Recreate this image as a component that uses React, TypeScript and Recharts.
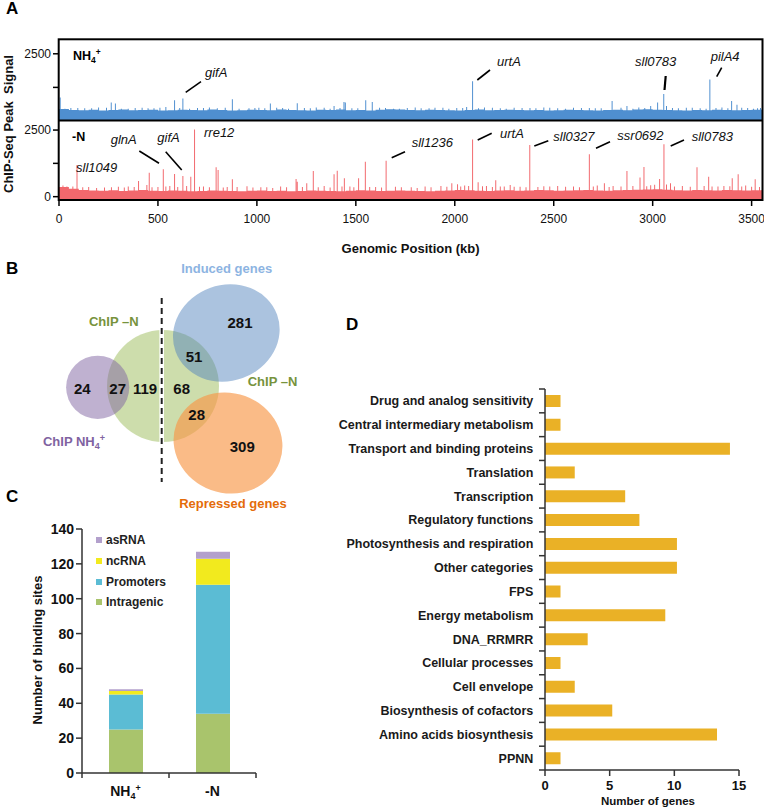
import React from "react";
import { AreaChart, Area, XAxis, YAxis, BarChart, Bar } from "recharts";

const FONT = '"Liberation Sans", Arial, Helvetica, sans-serif';

// ---- A: ChIP-seq peak signal along the genome (kb) ----
const GENOME_END = 3555;
const BIN = 50; // baseline read every 50 kb
const SPIKE = 2.5; // half width of a drawn peak, kb
const genomeTicks = [0, 500, 1000, 1500, 2000, 2500, 3000, 3500];
const signalTicks = [0, 1250, 2500];

const nh4Baseline = [
  450, 410, 400, 420, 390, 410, 430, 400, 410, 420, 390, 400,
  420, 410, 400, 430, 410, 390, 400, 420, 410, 400, 430, 410,
  400, 390, 420, 410, 430, 400, 410, 390, 420, 440, 430, 410,
  400, 420, 410, 400, 390, 410, 430, 400, 410, 420, 410, 400,
  410, 390, 400, 420, 410, 400, 390, 410, 420, 400, 430, 440,
  420, 410, 400, 390, 410, 400, 420, 410, 400, 410, 420, 430,
];
// [position kb, signal]
const nh4Peaks: [number, number][] = [
  [6, 875], [60, 480], [130, 470], [200, 500], [264, 690], [285, 650], [350, 460],
  [420, 490], [480, 470], [540, 520], [584, 775], [626, 840], [700, 480], [760, 500],
  [876, 810], [960, 470], [1010, 490], [1068, 650], [1130, 480], [1204, 660], [1300, 500],
  [1390, 560], [1440, 710], [1447, 690], [1480, 470], [1550, 775], [1583, 710], [1650, 480],
  [1720, 460], [1800, 500], [1870, 470], [1940, 490], [2010, 480], [2060, 520], [2090, 1475],
  [2150, 500], [2230, 470], [2300, 490], [2380, 480], [2450, 500], [2520, 470], [2600, 490],
  [2680, 480], [2740, 470], [2795, 740], [2870, 560], [2930, 500], [2990, 560], [3025, 690],
  [3056, 1000], [3100, 480], [3170, 490], [3240, 470], [3289, 1540], [3350, 500], [3399, 740],
  [3426, 600], [3480, 480], [3530, 470],
];
const nh4Bumps: [number, number][] = [
  [30, 460], [95, 480], [165, 470], [240, 490], [315, 460], [385, 480], [450, 470], [510, 490],
  [610, 480], [660, 460], [730, 480], [800, 470], [840, 490], [910, 460], [990, 480], [1040, 470],
  [1100, 490], [1160, 460], [1240, 480], [1270, 470], [1340, 490], [1370, 460], [1420, 480],
  [1510, 470], [1620, 490], [1690, 460], [1760, 480], [1830, 470], [1900, 490], [1970, 460],
  [2040, 480], [2120, 470], [2190, 490], [2260, 460], [2340, 480], [2410, 470], [2480, 490],
  [2560, 460], [2640, 480], [2710, 470], [2840, 490], [2900, 460], [2960, 480], [3070, 560],
  [3130, 470], [3200, 490], [3270, 460], [3320, 480], [3380, 470], [3450, 490], [3510, 460],
  [3545, 480],
];

const minusNBaseline = [
  360, 300, 250, 230, 220, 240, 210, 230, 250, 220, 210, 230,
  220, 200, 210, 230, 220, 210, 200, 220, 230, 210, 220, 200,
  210, 230, 220, 210, 200, 220, 240, 230, 210, 220, 230, 220,
  210, 200, 220, 230, 250, 240, 220, 210, 230, 240, 220, 230,
  250, 240, 220, 230, 240, 250, 230, 220, 240, 250, 260, 270,
  280, 260, 240, 230, 250, 240, 230, 250, 240, 230, 240, 250,
];
const minusNPeaks: [number, number][] = [
  [40, 380], [91, 1190], [150, 360], [230, 340], [300, 370], [350, 380], [402, 590],
  [444, 440], [456, 900], [500, 360], [527, 1025], [560, 400], [584, 850], [626, 775],
  [666, 750], [685, 2525], [730, 380], [794, 1100], [804, 1000], [850, 360], [876, 650],
  [950, 390], [1050, 350], [1120, 380], [1198, 665], [1204, 560], [1252, 500], [1285, 960],
  [1340, 400], [1390, 840], [1406, 975], [1442, 690], [1470, 380], [1514, 690], [1548, 1310],
  [1600, 360], [1653, 1350], [1700, 370], [1780, 350], [1850, 380], [1930, 400], [1985, 500],
  [2014, 470], [2050, 420], [2090, 2150], [2118, 540], [2160, 400], [2207, 615], [2250, 380],
  [2280, 440], [2330, 370], [2379, 1940], [2450, 390], [2520, 400], [2600, 380], [2680, 1590],
  [2720, 420], [2756, 500], [2800, 400], [2870, 960], [2936, 715], [2956, 1115], [2990, 430],
  [3010, 450], [3035, 665], [3057, 1965], [3090, 500], [3150, 400], [3224, 1100], [3283, 750],
  [3300, 380], [3360, 400], [3402, 690], [3432, 840], [3470, 420], [3518, 650],
];
const minusNBumps: [number, number][] = [
  [20, 420], [70, 380], [120, 350], [190, 330], [265, 350], [330, 340], [380, 360], [470, 350],
  [540, 380], [600, 360], [645, 400], [710, 370], [760, 350], [830, 340], [900, 360], [980, 340],
  [1020, 350], [1080, 330], [1150, 350], [1230, 360], [1310, 350], [1370, 340], [1430, 380],
  [1490, 350], [1570, 360], [1630, 340], [1730, 350], [1810, 330], [1880, 350], [1960, 370],
  [2030, 380], [2070, 400], [2140, 390], [2190, 360], [2230, 380], [2300, 370], [2360, 350],
  [2420, 360], [2480, 380], [2560, 370], [2630, 350], [2700, 380], [2780, 360], [2840, 380],
  [2900, 400], [2970, 390], [3070, 460], [3110, 380], [3190, 370], [3260, 400], [3330, 380],
  [3390, 390], [3450, 380], [3500, 370], [3540, 360],
];

// ---- B: Venn counts ----
const vennCounts = [24, 27, 119, 68, 51, 28, 281, 309];

// ---- C: binding sites ----
const siteGroups = ["NH4+", "-N"];
const intragenicSites = [25, 34];
const promoterSites = [20, 74];
const ncRNASites = [2, 15];
const asRNASites = [1, 4];
const siteTicks = [0, 20, 40, 60, 80, 100, 120, 140];

// ---- D: genes per functional category ----
const geneCategories = [
  "Drug and analog sensitivity",
  "Central intermediary metabolism",
  "Transport and binding proteins",
  "Translation",
  "Transcription",
  "Regulatory functions",
  "Photosynthesis and respiration",
  "Other categories",
  "FPS",
  "Energy metabolism",
  "DNA_RRMRR",
  "Cellular processes",
  "Cell envelope",
  "Biosynthesis of cofactors",
  "Amino acids biosynthesis",
  "PPNN",
];
const geneCounts = [1.2, 1.2, 14.3, 2.3, 6.2, 7.3, 10.2, 10.2, 1.2, 9.3, 3.3, 1.2, 2.3, 5.2, 13.3, 1.2];
const geneTicks = [0, 5, 10, 15];

const nh4Genes = ["gifA", "urtA", "sll0783", "pilA4"];
const minusNGenes = ["sll1049", "glnA", "gifA", "rre12", "sll1236", "urtA", "sll0327", "ssr0692", "sll0783"];

// step profile: baseline per bin, peaks override it
function buildSignal(base: number[], peaks: [number, number][]) {
  const baseAt = (x: number) =>
    base[Math.max(0, Math.min(base.length - 1, Math.floor(x / BIN)))];
  const breaks = new Set<number>();
  base.forEach((_, i) => breaks.add(i * BIN));
  peaks.forEach(([p]) => {
    breaks.add(p - SPIKE);
    breaks.add(p + SPIKE);
  });
  breaks.add(GENOME_END);
  return [...breaks]
    .sort((a, b) => a - b)
    .map((pos) => {
      const hit = peaks.find(([p]) => pos >= p - SPIKE && pos < p + SPIKE);
      return { pos, v: hit ? hit[1] : baseAt(pos) };
    });
}

const nh4Signal = buildSignal(nh4Baseline, [...nh4Peaks, ...nh4Bumps]);
const minusNSignal = buildSignal(minusNBaseline, [...minusNPeaks, ...minusNBumps]);

const siteData = siteGroups.map((g, i) => ({
  group: g,
  intragenic: intragenicSites[i],
  promoters: promoterSites[i],
  ncRNA: ncRNASites[i],
  asRNA: asRNASites[i],
}));

const siteSeries = [
  { key: "intragenic", name: "Intragenic", color: "#a9c46c" },
  { key: "promoters", name: "Promoters", color: "#5bbcd4" },
  { key: "ncRNA", name: "ncRNA", color: "#f2ea1e" },
  { key: "asRNA", name: "asRNA", color: "#b3a0cc" },
];

const geneData = geneCategories.map((c, i) => ({ category: c, genes: geneCounts[i] }));

const BLUE = "#4f8fd0";
const RED = "#f2686d";
const AXIS = "#333";

const signalTick = { fontSize: 12, fill: "#111", fontFamily: FONT };
const fmtSignal = (v: number) => (v === 1250 ? "" : String(v));

const GroupTick = (props: any) => {
  const { x, y, payload, index } = props;
  const half = 43.5;
  const label = payload.value as string;
  return (
    <g>
      <line x1={x - half} x2={x - half} y1={y} y2={y + 5} stroke={AXIS} strokeWidth={1.5} />
      {index === siteGroups.length - 1 && (
        <line x1={x + half} x2={x + half} y1={y} y2={y + 5} stroke={AXIS} strokeWidth={1.5} />
      )}
      <text x={x} y={y + 23} textAnchor="middle" fontSize={14} fontWeight="bold" fill="#111" fontFamily={FONT}>
        {label === "NH4+" ? (
          <>
            NH
            <tspan fontSize={9} dy={3}>4</tspan>
            <tspan fontSize={9} dy={-8}>+</tspan>
          </>
        ) : (
          label
        )}
      </text>
    </g>
  );
};

const CategoryTick = (props: any) => {
  const { x, y, payload, index } = props;
  const half = 11.9;
  return (
    <g>
      <line x1={x - 6} x2={x} y1={y - half} y2={y - half} stroke={AXIS} strokeWidth={1.5} />
      {index === geneCategories.length - 1 && (
        <line x1={x - 6} x2={x} y1={y + half} y2={y + half} stroke={AXIS} strokeWidth={1.5} />
      )}
      <text x={x - 11.7} y={y + 4.5} textAnchor="end" fontSize={12.5} fontWeight="bold" fill="#1a1a1a" fontFamily={FONT}>
        {payload.value}
      </text>
    </g>
  );
};

const SiteLegend = () => (
  <div style={{ position: "absolute", left: 96, top: 530, fontFamily: FONT, fontSize: 12, fontWeight: "bold", color: "#222" }}>
    {[...siteSeries].reverse().map((s) => (
      <div key={s.key} style={{ display: "flex", alignItems: "center", height: 20.7 }}>
        <span style={{ width: 6, height: 6, background: s.color, marginRight: 4, display: "inline-block" }} />
        <span>{s.name}</span>
      </div>
    ))}
  </div>
);

const nh4Spots = [
  { x: 205, y: 77, line: [185.7, 92.3, 201, 81.7] },
  { x: 497, y: 65.5, line: [477.3, 80, 490, 70] },
  { x: 635, y: 65.5, line: [664.5, 90, 665.7, 76] },
  { x: 710.7, y: 60.5, line: [716.7, 76.7, 721.7, 67.7] },
];
const minusNSpots = [
  { x: 76, y: 171.5, line: null },
  { x: 110.7, y: 143.5, line: [139.3, 151, 159, 163.3] },
  { x: 157.3, y: 141.5, line: [165.7, 151.7, 181.7, 170] },
  { x: 204, y: 137, line: null },
  { x: 411.7, y: 147, line: [391.7, 157.7, 405, 151.7] },
  { x: 500, y: 137.5, line: [477.7, 140, 491.7, 133.3] },
  { x: 553.3, y: 140.5, line: [534.3, 146, 548.3, 140.7] },
  { x: 617.3, y: 139.5, line: [596, 148.3, 610, 141.7] },
  { x: 691.7, y: 141, line: [670.7, 146, 684, 140] },
];
const vennSpots: [number, number][] = [
  [82.3, 394], [117.7, 394], [145, 394], [181.7, 394],
  [194, 362], [196.7, 419.5], [240, 328], [242.3, 452],
];

const geneLabel = (name: string, s: any, i: number) => (
  <g key={name + i}>
    {s.line && (
      <line x1={s.line[0]} y1={s.line[1]} x2={s.line[2]} y2={s.line[3]} stroke="#000" strokeWidth={name === "sll0783" && s.y < 100 ? 2.2 : 1.6} />
    )}
    <text x={s.x} y={s.y} fontSize={13} fontStyle="italic" fill="#111">{name}</text>
  </g>
);

const Overlay = () => (
  <svg width={764} height={807} style={{ position: "absolute", left: 0, top: 0, pointerEvents: "none", fontFamily: FONT }}>
    {/* panel letters */}
    <g fontSize={17} fontWeight="bold" fill="#000">
      <text x={6} y={14}>A</text>
      <text x={6} y={273.5}>B</text>
      <text x={6} y={502}>C</text>
      <text x={346} y={330}>D</text>
    </g>

    {/* A frame */}
    <rect x={58.7} y={39.3} width={703.8} height={160.7} fill="none" stroke="#000" strokeWidth={2} />
    <line x1={58.7} x2={762.5} y1={120.5} y2={120.5} stroke="#000" strokeWidth={2} />
    <text x={73} y={60} fontSize={12.5} fontWeight="bold" fill="#000">
      NH<tspan fontSize={8.5} dy={3}>4</tspan><tspan fontSize={8.5} dy={-8}>+</tspan>
    </text>
    <text x={72} y={141} fontSize={12.5} fontWeight="bold" fill="#000">-N</text>
    {nh4Genes.map((g, i) => geneLabel(g, nh4Spots[i], i))}
    {minusNGenes.map((g, i) => geneLabel(g, minusNSpots[i], i))}
    <text x={410.6} y={252.5} textAnchor="middle" fontSize={13} fontWeight="bold" fill="#111">Genomic Position (kb)</text>
    <text transform="translate(12.5,124) rotate(-90)" textAnchor="middle" fontSize={13} fontWeight="bold" fill="#111" style={{ whiteSpace: "pre" }}>
      ChIP-Seq Peak  Signal
    </text>

    {/* B venn */}
    <circle cx={163} cy={386} r={56} fill="#9bbb59" fillOpacity={0.5} />
    <circle cx={97.7} cy={387.3} r={31.6} fill="#8064a2" fillOpacity={0.5} />
    <ellipse cx={226.3} cy={333} rx={54} ry={48} transform="rotate(-20 226.3 333)" fill="#4f81bd" fillOpacity={0.48} />
    <ellipse cx={228} cy={443} rx={55} ry={50} transform="rotate(20 228 443)" fill="#f79646" fillOpacity={0.65} />
    <rect x={159.4} y={328} width={4.6} height={116} fill="#fff" />
    <line x1={161.7} x2={161.7} y1={298} y2={482} stroke="#222" strokeWidth={2} strokeDasharray="6 4" />
    <g fontSize={15} fontWeight="bold" fill="#111" textAnchor="middle">
      {vennCounts.map((c, i) => (
        <text key={i} x={vennSpots[i][0]} y={vennSpots[i][1]}>{c}</text>
      ))}
    </g>
    <g fontSize={13} fontWeight="bold" textAnchor="middle">
      <text x={226.7} y={272.5} fill="#8db4e2">Induced genes</text>
      <text x={113.8} y={325.5} fill="#77933c">ChIP –N</text>
      <text x={272.5} y={386.4} fill="#77933c">ChIP –N</text>
      <text x={74} y={446} fill="#7f63a1">
        ChIP NH<tspan fontSize={9} dy={3}>4</tspan><tspan fontSize={9} dy={-8}>+</tspan>
      </text>
      <text x={233} y={508} fill="#e46c0a">Repressed genes</text>
    </g>

    {/* C axis title */}
    <text transform="translate(41.5,650) rotate(-90)" textAnchor="middle" fontSize={13} fontWeight="bold" fill="#111">
      Number of binding sites
    </text>

    {/* D axis title */}
    <text x={648} y={804.8} textAnchor="middle" fontSize={11.5} fontWeight="bold" fill="#111">Number of genes</text>
  </svg>
);

export default function App() {
  return (
    <div style={{ position: "absolute", left: 0, top: 0, width: 764, height: 807, background: "#fff", fontFamily: FONT }}>
      {/* A top: NH4+ */}
      <div style={{ position: "absolute", left: 0, top: 39 }}>
        <AreaChart width={764} height={82} data={nh4Signal} margin={{ top: 0, right: 1.5, bottom: 0, left: 0 }}>
          <XAxis dataKey="pos" type="number" domain={[0, GENOME_END]} hide allowDataOverflow />
          <YAxis
            width={59}
            domain={[0, 3050]}
            ticks={signalTicks}
            tickFormatter={fmtSignal}
            axisLine={false}
            tickLine={{ stroke: "#000", strokeWidth: 1.5 }}
            tickSize={6}
            tickMargin={2}
            tick={signalTick}
            allowDataOverflow
          />
          <Area type="stepAfter" dataKey="v" stroke="none" fill={BLUE} fillOpacity={1} baseValue={0} dot={false} activeDot={false} isAnimationActive={false} />
        </AreaChart>
      </div>

      {/* A bottom: -N */}
      <div style={{ position: "absolute", left: 0, top: 121 }}>
        <AreaChart width={764} height={109} data={minusNSignal} margin={{ top: 0, right: 1.5, bottom: 0, left: 0 }}>
          <XAxis
            dataKey="pos"
            type="number"
            domain={[0, GENOME_END]}
            ticks={genomeTicks}
            interval={0}
            height={30}
            axisLine={false}
            tickLine={{ stroke: "#000", strokeWidth: 1.5 }}
            tickSize={6}
            tickMargin={8}
            tick={signalTick}
            allowDataOverflow
          />
          <YAxis
            width={59}
            domain={[-125, 2840]}
            ticks={signalTicks}
            tickFormatter={fmtSignal}
            axisLine={false}
            tickLine={{ stroke: "#000", strokeWidth: 1.5 }}
            tickSize={6}
            tickMargin={2}
            tick={signalTick}
            allowDataOverflow
          />
          <Area type="stepAfter" dataKey="v" stroke="none" fill={RED} fillOpacity={1} baseValue={-125} dot={false} activeDot={false} isAnimationActive={false} />
        </AreaChart>
      </div>

      {/* C */}
      <div style={{ position: "absolute", left: 0, top: 520 }}>
        <BarChart width={270} height={287} data={siteData} margin={{ top: 9, right: 14, bottom: 0, left: 0 }} barSize={34}>
          <XAxis
            dataKey="group"
            height={34}
            interval={0}
            tickSize={0}
            tickMargin={0}
            tickLine={false}
            tick={<GroupTick />}
            axisLine={{ stroke: AXIS, strokeWidth: 1.5 }}
          />
          <YAxis
            width={82}
            domain={[0, 140]}
            ticks={siteTicks}
            interval={0}
            tickSize={6}
            tickMargin={2}
            axisLine={{ stroke: AXIS, strokeWidth: 1.5 }}
            tickLine={{ stroke: AXIS, strokeWidth: 1.5 }}
            tick={{ fontSize: 14, fontWeight: "bold", fill: "#111", fontFamily: FONT }}
          />
          {siteSeries.map((s) => (
            <Bar key={s.key} dataKey={s.key} name={s.name} stackId="sites" fill={s.color} isAnimationActive={false} />
          ))}
        </BarChart>
      </div>
      <SiteLegend />

      {/* D */}
      <div style={{ position: "absolute", left: 300, top: 380 }}>
        <BarChart layout="vertical" width={464} height={427} data={geneData} margin={{ top: 9, right: 25, bottom: 0, left: 0 }} barSize={12}>
          <XAxis
            type="number"
            domain={[0, 15]}
            ticks={geneTicks}
            interval={0}
            height={37}
            tickSize={6}
            tickMargin={5}
            axisLine={{ stroke: AXIS, strokeWidth: 1.5 }}
            tickLine={{ stroke: AXIS, strokeWidth: 1.5 }}
            tick={{ fontSize: 13, fontWeight: "bold", fill: "#111", fontFamily: FONT }}
          />
          <YAxis
            type="category"
            dataKey="category"
            width={245}
            interval={0}
            tickSize={0}
            tickMargin={0}
            tickLine={false}
            tick={<CategoryTick />}
            axisLine={{ stroke: AXIS, strokeWidth: 1.5 }}
          />
          <Bar dataKey="genes" fill="#eab126" isAnimationActive={false} />
        </BarChart>
      </div>

      <Overlay />
    </div>
  );
}
